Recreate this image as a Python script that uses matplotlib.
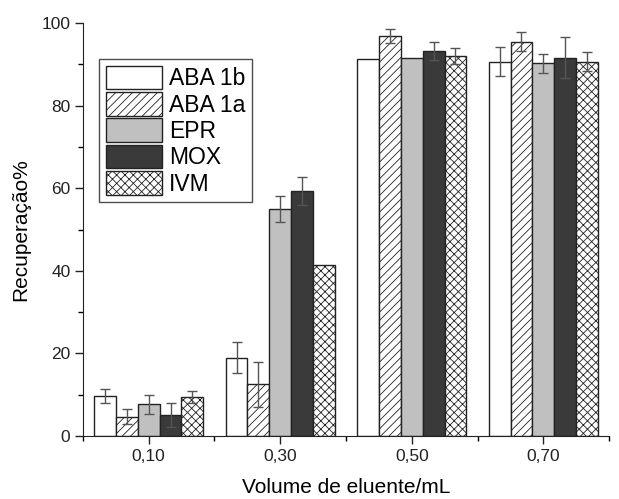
import numpy as np
import matplotlib.pyplot as plt
from matplotlib.ticker import MultipleLocator

plt.rcParams['font.family'] = ['Liberation Sans', 'DejaVu Sans']
plt.rcParams['hatch.linewidth'] = 0.6

# data
volumes = ['0,10', '0,30', '0,50', '0,70']
series = ['ABA 1b', 'ABA 1a', 'EPR', 'MOX', 'IVM']
values = {
    'ABA 1b': [9.7, 19.0, 91.3, 90.6],
    'ABA 1a': [4.7, 12.5, 96.9, 95.4],
    'EPR':    [7.7, 54.9, 91.4, 90.2],
    'MOX':    [5.1, 59.3, 93.2, 91.6],
    'IVM':    [9.4, 41.3, 92.0, 90.6],
}
errors = {
    'ABA 1b': [1.7, 3.8, 0.0, 3.5],
    'ABA 1a': [1.8, 5.4, 1.7, 2.3],
    'EPR':    [2.3, 3.1, 0.0, 2.3],
    'MOX':    [2.9, 3.4, 2.1, 4.9],
    'IVM':    [1.5, 0.0, 1.9, 2.3],
}

styles = {
    'ABA 1b': dict(color='white', hatch=None),
    'ABA 1a': dict(color='white', hatch='////'),
    'EPR':    dict(color='#c0c0c0', hatch=None),
    'MOX':    dict(color='#3a3a3a', hatch=None),
    'IVM':    dict(color='white', hatch='xxxx'),
}

fig = plt.figure(figsize=(6.19, 4.99), dpi=100)
ax = fig.add_axes([0.134, 0.126, 0.85, 0.828])

x = np.arange(len(volumes))
w = 0.166
for i, s in enumerate(series):
    pos = x + (i - 2) * w
    ax.bar(pos, values[s], w, color=styles[s]['color'], hatch=styles[s]['hatch'],
           edgecolor='#222222', linewidth=1.0, label=s)
    err = np.array(errors[s])
    mask = err > 0
    ax.errorbar(pos[mask], np.array(values[s])[mask], yerr=err[mask], fmt='none',
                ecolor='#555555', elinewidth=1.0, capsize=3.5, capthick=1.0)

ax.set_xlim(-0.5, 3.5)
ax.set_ylim(0, 100)
ax.set_xticks(x)
ax.set_xticklabels(volumes)
ax.xaxis.set_minor_locator(MultipleLocator(1.0, offset=0.5))
ax.yaxis.set_major_locator(MultipleLocator(20))
ax.yaxis.set_minor_locator(MultipleLocator(10))
ax.tick_params(which='major', direction='out', length=6, width=1, pad=3,
               labelsize=12.5, colors='#222222')
ax.tick_params(which='minor', direction='out', length=3.5, width=1)
ax.spines['top'].set_visible(False)
ax.spines['right'].set_visible(False)
ax.spines['left'].set_color('#222222')
ax.spines['bottom'].set_color('#222222')

ax.set_xlabel('Volume de eluente/mL', fontsize=15, labelpad=10)
ax.set_ylabel('Recuperação%', fontsize=15, labelpad=8)

leg = ax.legend(loc='upper left', bbox_to_anchor=(0.03, 0.913), fontsize=16.5,
                frameon=True, fancybox=False, edgecolor='#222222',
                handlelength=2.45, handleheight=1.2, labelspacing=0.08,
                handletextpad=0.3, borderpad=0.3, borderaxespad=0)
leg.get_frame().set_linewidth(1.0)

fig.savefig('out.png', dpi=100)
